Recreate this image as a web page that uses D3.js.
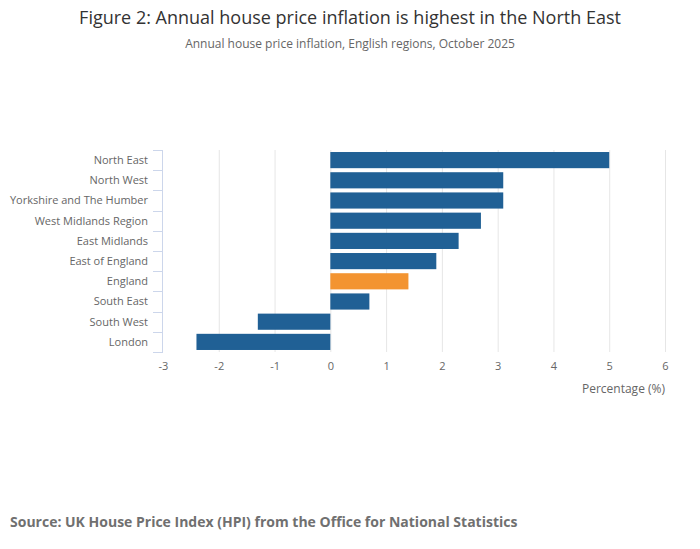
<!DOCTYPE html>
<html>
<head>
<meta charset="utf-8">
<script src="https://cdn.jsdelivr.net/npm/d3@7"></script>
<style>
  body { margin: 0; background: #fff; }
  #chart { width: 700px; height: 549px; }
  text { font-family: "Open Sans", sans-serif; }
</style>
</head>
<body>
<div id="chart"></div>
<script>
// Regions, top to bottom
const regions = [
    "North East", "North West", "Yorkshire and The Humber", "West Midlands Region",
    "East Midlands", "East of England", "England", "South East", "South West", "London"
];
// Annual house price inflation (%)
const inflation = [5.0, 3.1, 3.1, 2.7, 2.3, 1.9, 1.4, 0.7, -1.3, -2.4];
const xTicks = [-3, -2, -1, 0, 1, 2, 3, 4, 5, 6];

const width = 700, height = 549;
const margin = { top: 150, right: 35, bottom: 197, left: 163 };
const innerW = width - margin.left - margin.right;
const innerH = height - margin.top - margin.bottom;

const svg = d3.select("#chart")
    .append("svg")
    .attr("width", width)
    .attr("height", height);

// Titles
svg.append("text")
    .attr("x", width / 2)
    .attr("y", 24)
    .attr("text-anchor", "middle")
    .style("font-size", "18px")
    .style("fill", "#333333")
    .text("Figure 2: Annual house price inflation is highest in the North East");

svg.append("text")
    .attr("x", width / 2)
    .attr("y", 48)
    .attr("text-anchor", "middle")
    .style("font-size", "12px")
    .style("fill", "#666666")
    .text("Annual house price inflation, English regions, October 2025");

const g = svg.append("g")
    .attr("transform", `translate(${margin.left},${margin.top})`);

const x = d3.scaleLinear()
    .domain([-3, 6])
    .range([0, innerW]);

const y = d3.scaleBand()
    .domain(regions)
    .range([0, innerH])
    .paddingInner(0.2)
    .paddingOuter(0.1);

// Gridlines
g.append("g")
    .selectAll("line")
    .data(xTicks.slice(1))
    .enter()
    .append("line")
    .attr("x1", d => x(d) + 0.5)
    .attr("x2", d => x(d) + 0.5)
    .attr("y1", 0)
    .attr("y2", innerH)
    .attr("stroke", "#e6e6e6")
    .attr("stroke-width", 1);

// Bars
g.selectAll(".bar")
    .data(regions.map((r, i) => ({ region: r, value: inflation[i] })))
    .enter()
    .append("rect")
    .attr("class", "bar")
    .attr("x", d => x(Math.min(0, d.value)))
    .attr("width", d => Math.abs(x(d.value) - x(0)))
    .attr("y", d => y(d.region))
    .attr("height", y.bandwidth())
    .attr("fill", d => d.region === "England" ? "#f39431" : "#206095");

// Y axis: line on the left with band-edge ticks
const yAxis = g.append("g");
yAxis.append("line")
    .attr("x1", -0.5).attr("x2", -0.5)
    .attr("y1", 0).attr("y2", innerH)
    .attr("stroke", "#ccd6eb");

const step = innerH / regions.length;
yAxis.selectAll(".edge")
    .data(d3.range(regions.length + 1))
    .enter()
    .append("line")
    .attr("x1", -10).attr("x2", 0)
    .attr("y1", d => Math.round(d * step) + 0.5)
    .attr("y2", d => Math.round(d * step) + 0.5)
    .attr("stroke", "#ccd6eb");

yAxis.selectAll(".lbl")
    .data(regions)
    .enter()
    .append("text")
    .attr("x", -15)
    .attr("y", d => y(d) + y.bandwidth() / 2)
    .attr("dy", "0.35em")
    .attr("text-anchor", "end")
    .style("font-size", "11px")
    .style("fill", "#666666")
    .text(d => d);

// X axis (plain hyphen for negatives, as in the original)
const xAxis = g.append("g")
    .attr("transform", `translate(0,${innerH})`)
    .call(d3.axisBottom(x).tickValues(xTicks).tickSize(0).tickPadding(10).tickFormat(d => String(d)));
xAxis.select(".domain").remove();
xAxis.selectAll("text")
    .style("font-family", "Open Sans, sans-serif")
    .style("font-size", "11px")
    .style("fill", "#666666");

svg.append("text")
    .attr("x", margin.left + innerW)
    .attr("y", margin.top + innerH + 41)
    .attr("text-anchor", "end")
    .style("font-size", "12px")
    .style("fill", "#666666")
    .text("Percentage (%)");

// Source
svg.append("text")
    .attr("x", 10)
    .attr("y", 527)
    .style("font-size", "14px")
    .style("font-weight", 700)
    .style("fill", "#707070")
    .text("Source: UK House Price Index (HPI) from the Office for National Statistics");
</script>
</body>
</html>
